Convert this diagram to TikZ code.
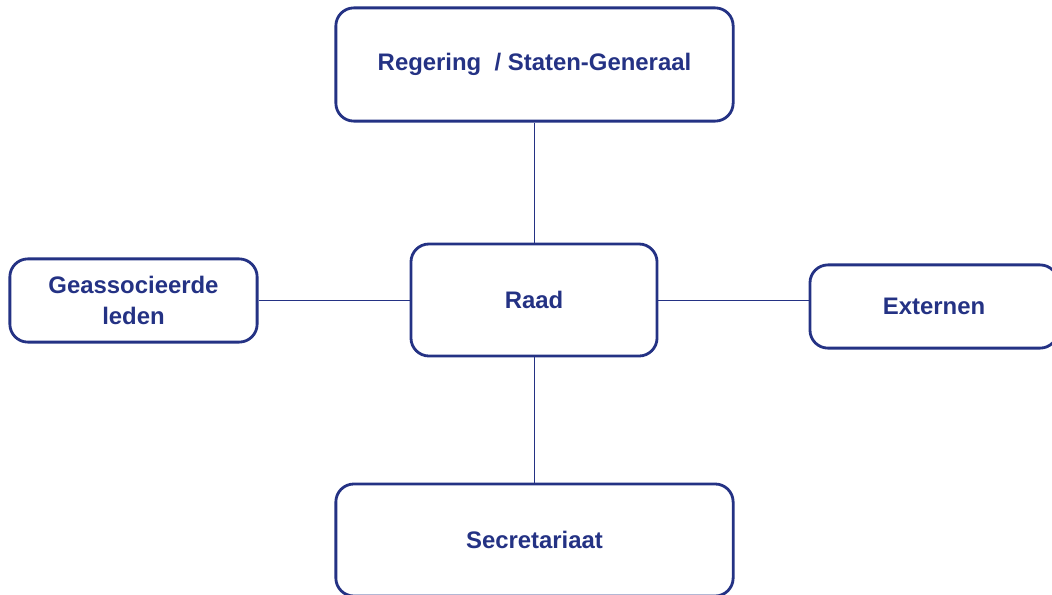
\documentclass[tikz,border=0pt]{standalone}
\usepackage{fontspec}
\setmainfont{Liberation Sans}
\usetikzlibrary{positioning}
\definecolor{navy}{RGB}{36,50,132}

\begin{document}
\begin{tikzpicture}[x=0.025cm,y=-0.025cm,
    box/.style={draw=navy,line width=2pt,rounded corners=0.45cm,text=navy,
      font=\bfseries\fontsize{17}{22.5}\selectfont,align=center,inner sep=0pt},
    link/.style={draw=navy,line width=0.7pt}]
  \useasboundingbox (0,0) rectangle (1052,594);
  \clip (0,0) rectangle (1052,594);
  %draw boxes
    \node[box,minimum width=9.93cm,minimum height=2.83cm] (gov) at (534.5,64.5) {Regering\ \ / Staten-Generaal};
    \node[box,minimum width=6.15cm,minimum height=2.8cm] (raad) at (534,300) {Raad};
    \node[box,minimum width=6.18cm,minimum height=2.08cm] (lid) at (133.5,300.5) {Geassocieerde\\leden};
    \node[box,minimum width=6.2cm,minimum height=2.08cm] (ext) at (934,306.5) {Externen};
    \node[box,minimum width=9.93cm,minimum height=2.8cm] (secr) at (534.5,540) {Secretariaat};
  %draw connections
    \draw[link] (raad.north) -- (raad.north |- gov.south);
    \draw[link] (raad.south) -- (raad.south |- secr.north);
    \draw[link] (raad.west) -- (raad.west -| lid.east);
    \draw[link] (raad.east) -- (raad.east -| ext.west);
\end{tikzpicture}
\end{document}
